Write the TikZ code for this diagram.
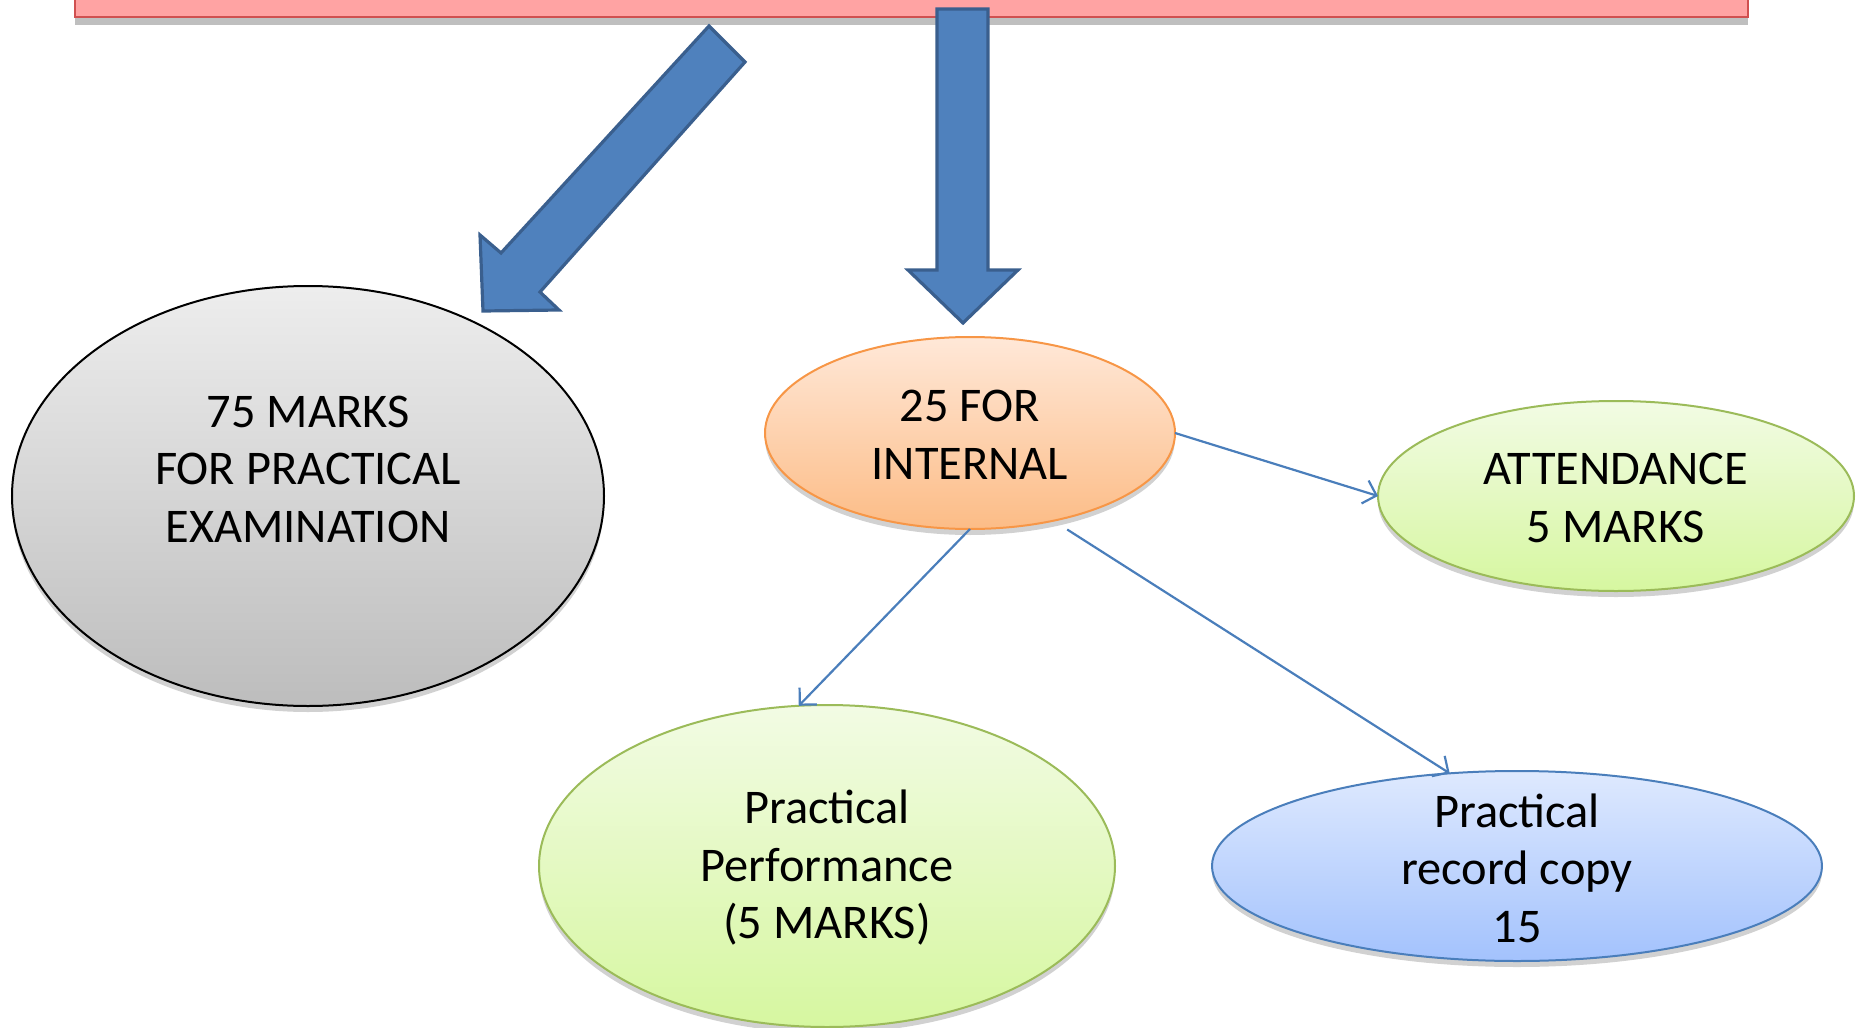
\documentclass[tikz,border=0pt]{standalone}
\usepackage{fontspec}
\setmainfont{Carlito}
\usetikzlibrary{shapes.geometric,shadows,arrows.meta}
\definecolor{rectfill}{HTML}{FFA3A3}
\definecolor{rectline}{HTML}{D05050}
\definecolor{arrfill}{HTML}{4F81BD}
\definecolor{arrline}{HTML}{3A5F8E}
\definecolor{conn}{HTML}{4A7EBB}
\definecolor{orline}{HTML}{F79646}
\definecolor{grline}{HTML}{9BBB59}
\definecolor{blline}{HTML}{4A7EBB}
\tikzset{
  oval/.style={ellipse,inner sep=0pt,outer sep=0pt,line width=1pt,
    drop shadow={shadow xshift=0pt,shadow yshift=-3pt,opacity=0.18,fill=black}},
  greyoval/.style={oval,draw=black,top color=black!7,bottom color=black!26},
  orangeoval/.style={oval,draw=orline,top color={rgb,255:red,255;green,232;blue,216},bottom color={rgb,255:red,252;green,188;blue,134}},
  greenoval/.style={oval,draw=grline,top color={rgb,255:red,242;green,251;blue,228},bottom color={rgb,255:red,214;green,247;blue,160}},
  blueoval/.style={oval,draw=blline,top color={rgb,255:red,222;green,233;blue,254},bottom color={rgb,255:red,163;green,194;blue,253}},
  txt/.style={align=center,font=\fontsize{24.2}{28.75}\selectfont,inner sep=0pt},
  bigarrow/.style={fill=arrfill,draw=arrline,line width=1.6pt,line join=miter},
  link/.style={draw=conn,line width=1.1pt,-{Straight Barb[length=6pt,width=12pt]}}
}
\begin{document}
\begin{tikzpicture}[x=0.5pt,y=-0.5pt]
\useasboundingbox (0,0) rectangle (1860,1028);
% top banner
\node (banner) [rectangle,fill=rectfill,draw=rectline,line width=1pt,minimum width=836.5pt,minimum height=28.5pt,inner sep=0pt,
  drop shadow={shadow xshift=0pt,shadow yshift=-4pt,opacity=0.25,fill=black}] at (911.5,-11.5) {};
% big arrows
\draw[bigarrow] (483,311) -- (480,235) -- (501,253) -- (709,26) -- (745,62) -- (540,292) -- (559,310) -- cycle;
\draw[bigarrow] (937,9) -- (988,9) -- (988,270) -- (1018,270) -- (963,323) -- (908,270) -- (937,270) -- cycle;
% ovals
\node (prac) [greyoval,minimum width=296pt,minimum height=210pt] at (308,496) {};
\node (int)  [orangeoval,minimum width=205pt,minimum height=96pt] at (970,433) {};
\node (att)  [greenoval,minimum width=238pt,minimum height=95pt] at (1616,496) {};
\node (pp)   [greenoval,minimum width=288pt,minimum height=161pt] at (827,866) {};
\node (rec)  [blueoval,minimum width=305pt,minimum height=95pt] at (1517,866) {};
% texts
\node (pract) [txt] at (308,469) {75 MARKS\\FOR PRACTICAL\\EXAMINATION};
\node (intt)  [txt] at (970,435) {25 FOR\\INTERNAL};
\node (attt)  [txt] at (1616,498) {ATTENDANCE\\5 MARKS};
\node (ppt)   [txt] at (827,868) {Practical\\Performance\\(5 MARKS)};
\node (rect)  [txt] at (1517,868) {Practical\\record copy\\15};
% connectors
\draw[link] (int.east) -- (att.west);
\draw[link] (int.south) -- (pp.100);
\draw[link] ([yshift=-6pt]int.-41) -- (rec.126);
\end{tikzpicture}
\end{document}
